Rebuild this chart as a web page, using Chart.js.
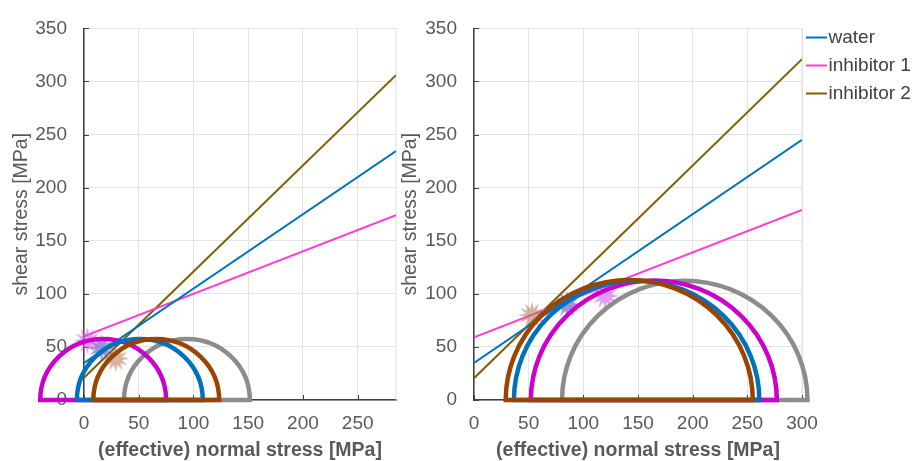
<!DOCTYPE html>
<html>
<head>
<meta charset="utf-8">
<script src="https://cdn.jsdelivr.net/npm/chart.js@4.4.1/dist/chart.umd.min.js"></script>
<style>
html, body { margin: 0; padding: 0; background: #fff; overflow: hidden; }
#c1 { position: absolute; left: 0; top: 0; }
#c2 { position: absolute; left: 400px; top: 0; }
</style>
</head>
<body>
<canvas id="c1" width="400" height="461"></canvas>
<canvas id="c2" width="517" height="461"></canvas>
<script>
var fluids = ['water', 'inhibitor 1', 'inhibitor 2'];
var lineColors = ['#0072bd', '#ff3ccf', '#7f6000'];

// failure envelopes, shear stress at left and right edge of each panel
var envLeftX = [0, 285];
var envLeft = [[35, 234.5], [60, 174], [21, 306]];
var envRightX = [0, 300];
var envRight = [[35, 245], [59, 179], [20.5, 321]];

// mohr circles [sigma3, sigma1], drawn in this order (gray, inhibitor 1, water, inhibitor 2)
var circleColors = ['#8c8c8c', '#cc00cc', '#0072bd', '#994400'];
var circlesLeft = [[36.5, 151.5], [-40, 75], [-6.5, 108.5], [8.5, 123.5]];
var circlesRight = [[80.5, 305], [52, 277], [36.5, 261], [29, 255]];

// tangent points (stars) for water, inhibitor 1, inhibitor 2
var starColors = ['rgba(85,75,205,0.6)', 'rgba(210,90,230,0.6)', 'rgba(180,120,80,0.55)'];
var starsLeft = [[16, 49], [3, 56], [29, 39]];
var starsRight = [[85, 90], [120, 98], [53, 80]];

var xStep = 50;
var yMax = 350;
var yStep = 50;

Chart.defaults.font.family = "'Liberation Sans', Arial, sans-serif";

function makeStar(color) {
	var c = document.createElement('canvas');
	c.width = 30; c.height = 30;
	var g = c.getContext('2d');
	g.beginPath();
	for (var k = 0; k < 24; k++) {
		var r = (k % 2 == 0) ? 14 : 6.5;
		var a = k * Math.PI / 12 - Math.PI / 2;
		g.lineTo(15 + r * Math.cos(a), 15 + r * Math.sin(a));
	}
	g.closePath();
	g.fillStyle = color;
	g.fill();
	return c;
}

function makeLegendLine(color) {
	var c = document.createElement('canvas');
	c.width = 24; c.height = 4;
	var g = c.getContext('2d');
	g.fillStyle = color;
	g.fillRect(3, 1, 21, 2);
	return c;
}

var mohrPlugin = {
	id: 'mohr',
	beforeDatasetsDraw: function(chart) {
		var a = chart.chartArea, ctx = chart.ctx;
		var x = chart.scales.x, y = chart.scales.y;
		ctx.save();
		ctx.strokeStyle = '#e0e0e0';
		ctx.lineWidth = 1;
		ctx.beginPath();
		ctx.moveTo(a.right, a.top);
		ctx.lineTo(a.right, a.bottom);
		ctx.stroke();
		// small inward tick marks
		ctx.strokeStyle = '#404040';
		ctx.beginPath();
		x.ticks.forEach(function(t) {
			var px = Math.round(x.getPixelForValue(t.value)) + 0.5;
			ctx.moveTo(px, a.bottom);
			ctx.lineTo(px, a.bottom - 5);
		});
		y.ticks.forEach(function(t) {
			var py = Math.round(y.getPixelForValue(t.value)) + 0.5;
			ctx.moveTo(a.left, py);
			ctx.lineTo(a.left + 5, py);
		});
		ctx.stroke();
		ctx.restore();
	},
	afterDatasetsDraw: function(chart, args, opts) {
		var x = chart.scales.x, y = chart.scales.y, ctx = chart.ctx;
		var y0 = y.getPixelForValue(0);
		ctx.save();
		opts.circles.forEach(function(c, i) {
			var cx = x.getPixelForValue((c[0] + c[1]) / 2);
			var rx = x.getPixelForValue(c[1]) - cx;
			var ry = y0 - y.getPixelForValue((c[1] - c[0]) / 2);
			ctx.beginPath();
			ctx.ellipse(cx, y0, rx, ry, 0, Math.PI, 2 * Math.PI);
			ctx.closePath();
			ctx.strokeStyle = circleColors[i];
			ctx.lineWidth = 4.5;
			ctx.stroke();
		});
		ctx.restore();
	}
};

var legendWidth = {
	id: 'legendWidth',
	afterInit: function(chart) {
		var lg = chart.legend;
		if (!lg || !chart.options.plugins.legend.display) return;
		var fit = lg.fit.bind(lg);
		lg.fit = function() { fit(); this.width = 115; };
	}
};

function buildChart(canvasId, envX, env, circles, stars, xMax, yAxisWidth, titlePad, showLegend) {
	var datasets = [{
		label: 'points',
		data: stars.map(function(p) { return {x: p[0], y: p[1]}; }),
		pointStyle: starColors.map(makeStar),
		pointRadius: 14,
		clip: false
	}];
	fluids.forEach(function(name, i) {
		datasets.push({
			label: name,
			data: [{x: envX[0], y: env[i][0]}, {x: envX[1], y: env[i][1]}],
			showLine: true,
			borderColor: lineColors[i],
			borderWidth: 2,
			pointRadius: 0,
			pointStyle: makeLegendLine(lineColors[i])
		});
	});

	return new Chart(document.getElementById(canvasId), {
		type: 'scatter',
		data: {datasets: datasets},
		plugins: [mohrPlugin, legendWidth],
		options: {
			responsive: false,
			animation: false,
			layout: {autoPadding: false, padding: {top: 19, right: showLegend ? 0 : 4, bottom: 0, left: 0}},
			plugins: {
				mohr: {circles: circles},
				tooltip: {enabled: false},
				legend: {
					display: showLegend,
					position: 'right',
					align: 'start',
					labels: {
						usePointStyle: true,
						pointStyleWidth: 8,
						padding: 9,
						color: '#404040',
						font: {size: 19},
						filter: function(item) { return item.datasetIndex > 0; }
					}
				}
			},
			scales: {
				x: {
					type: 'linear',
					min: 0,
					max: xMax,
					afterFit: function(s) { s.height = 61; },
					ticks: {stepSize: xStep, includeBounds: false, padding: 12, color: '#595959', font: {size: 19}},
					grid: {color: '#e3e3e3', drawTicks: false},
					border: {color: '#404040', width: 1.5},
					title: {display: true, text: '(effective) normal stress [MPa]', color: '#595959',
						font: {size: 19.5, weight: 'bold', lineHeight: 1}, padding: {top: 0, bottom: 1}}
				},
				y: {
					min: 0,
					max: yMax,
					afterFit: function(s) { s.width = yAxisWidth; },
					ticks: {stepSize: yStep, padding: 17, color: '#595959', font: {size: 19}},
					grid: {color: '#e3e3e3', drawTicks: false},
					border: {color: '#404040', width: 1.5},
					title: {display: true, text: 'shear stress [MPa]', color: '#595959',
						font: {size: 19.5, lineHeight: 1}, padding: {top: titlePad, bottom: 0}}
				}
			}
		}
	});
}

buildChart('c1', envLeftX, envLeft, circlesLeft, starsLeft, 285, 84, 12, false);
buildChart('c2', envRightX, envRight, circlesRight, starsRight, 300, 74, 1, true);
</script>
</body>
</html>
